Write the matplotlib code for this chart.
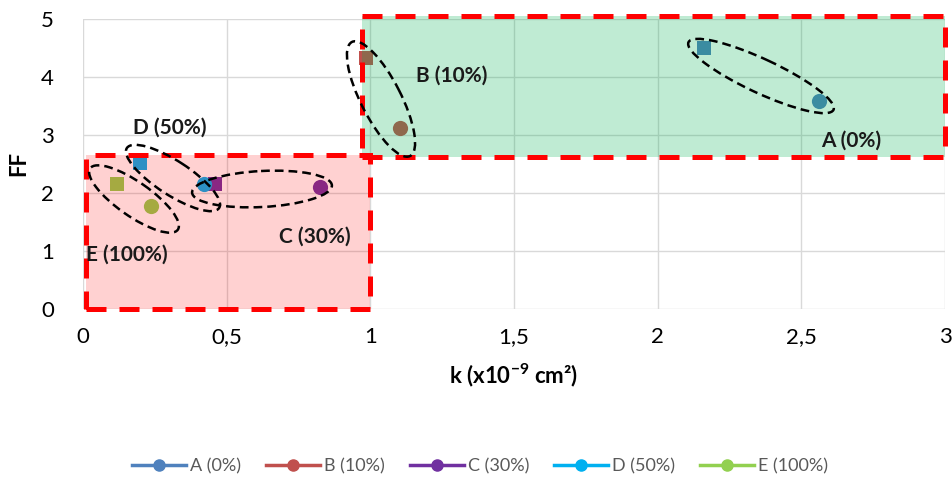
import matplotlib
matplotlib.use("Agg")
import matplotlib.pyplot as plt
from matplotlib.patches import Rectangle, Ellipse
from matplotlib.lines import Line2D
from matplotlib.ticker import FuncFormatter

plt.rcParams['font.family'] = ['Lato', 'DejaVu Sans']
plt.rcParams['mathtext.fontset'] = 'custom'
plt.rcParams['mathtext.rm'] = 'Lato'
plt.rcParams['mathtext.bf'] = 'Lato:bold'

# data
labels = ['A (0%)', 'B (10%)', 'C (30%)', 'D (50%)', 'E (100%)']
colors = ['#4F81BD', '#C0504D', '#7030A0', '#00B0F0', '#92D050']
k_square = [2.16, 0.985, 0.46, 0.20, 0.117]
ff_square = [4.50, 4.33, 2.16, 2.52, 2.15]
k_circle = [2.56, 1.103, 0.825, 0.42, 0.235]
ff_circle = [3.59, 3.12, 2.10, 2.16, 1.77]
x_ticks = [0, 0.5, 1, 1.5, 2, 2.5, 3]
y_ticks = [0, 1, 2, 3, 4, 5]

fig = plt.figure(figsize=(9.52, 4.83), dpi=100)
ax = fig.add_axes([83 / 952, 1 - 309 / 483, 862 / 952, 290 / 483])
ax.set_xlim(0, 3)
ax.set_ylim(0, 5)
ax.set_xticks(x_ticks)
ax.set_yticks(y_ticks)
ax.xaxis.set_major_formatter(FuncFormatter(lambda v, p: ('%g' % v).replace('.', ',')))
ax.grid(True, color='#D9D9D9', lw=1)
ax.set_axisbelow(True)
for s in ax.spines.values():
    s.set_visible(False)
ax.tick_params(length=0, labelsize=16, pad=13)
ax.tick_params(axis='y', pad=21)

for i in range(len(labels)):
    ax.scatter(k_square[i], ff_square[i], marker='s', s=110, color=colors[i], zorder=3, lw=0)
    ax.scatter(k_circle[i], ff_circle[i], marker='o', s=120, color=colors[i], zorder=3, lw=0)

# shaded zones on top of markers
ax.add_patch(Rectangle((0.01, 0.0), 0.99, 2.65, facecolor='#FF0000', alpha=0.18,
                       edgecolor='none', zorder=4, clip_on=False))
ax.add_patch(Rectangle((0.01, 0.0), 0.99, 2.65, facecolor='none', edgecolor='#FF0000',
                       lw=3.6, ls=(0, (4, 2.6)), zorder=5, clip_on=False))
ax.add_patch(Rectangle((0.97, 2.62), 2.03, 2.43, facecolor='#00B050', alpha=0.25,
                       edgecolor='none', zorder=4, clip_on=False))
ax.add_patch(Rectangle((0.97, 2.62), 2.03, 2.43, facecolor='none', edgecolor='#FF0000',
                       lw=3.6, ls=(0, (4, 2.6)), zorder=5, clip_on=False))

# group labels
lbl = dict(fontsize=15, fontweight='bold', color='#1a1a1a', ha='center', va='center', zorder=7)
ax.text(1.284, 4.03, 'B (10%)', **lbl)
ax.text(2.673, 2.90, 'A (0%)', **lbl)
ax.text(0.303, 3.12, 'D (50%)', **lbl)
ax.text(0.808, 1.24, 'C (30%)', **lbl)
ax.text(0.153, 0.93, 'E (100%)', **lbl)

ax.set_xlabel(r'k (x10$^{\mathbf{-9}}$ cm²)', fontsize=16, fontweight='bold', labelpad=10)
fig.text(19 / 952, 1 - 163 / 483, 'FF', rotation=90, fontsize=16, fontweight='bold',
         ha='center', va='center')

# dashed ellipses drawn in pixel space
ov = fig.add_axes([0, 0, 1, 1])
ov.set_xlim(0, 952)
ov.set_ylim(483, 0)
ov.axis('off')
ov.patch.set_alpha(0)
ell = dict(facecolor='none', edgecolor='black', lw=1.8, ls=(0, (3.5, 2)))
ov.add_patch(Ellipse((761, 76), 160, 34, angle=25, **ell))
ov.add_patch(Ellipse((381, 99), 128, 40, angle=63, **ell))
ov.add_patch(Ellipse((173, 178), 110, 34, angle=33, **ell))
ov.add_patch(Ellipse((134, 199), 107, 34, angle=35, **ell))
ov.add_patch(Ellipse((262, 189), 140, 36, angle=-3, **ell))

handles = [Line2D([], [], color=c, lw=2.5, marker='o', ms=8) for c in colors]
fig.legend(handles, labels, loc='center', bbox_to_anchor=(480 / 952, 1 - 466 / 483),
           ncol=5, frameon=False, fontsize=13, labelcolor='#595959',
           handlelength=3.0, handletextpad=0.2, columnspacing=1.4)

fig.savefig('out.png', dpi=100)
